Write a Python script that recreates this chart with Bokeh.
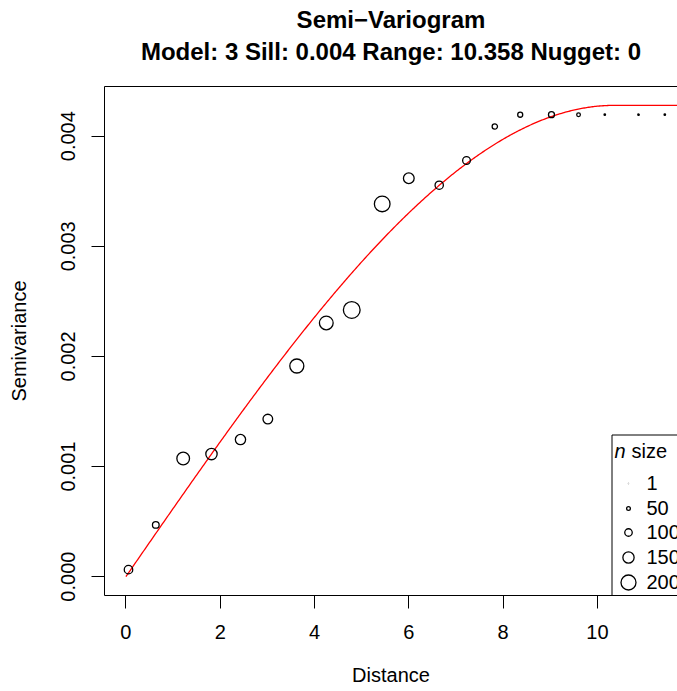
import numpy as np
from bokeh.plotting import figure
from bokeh.models import Range1d, LinearAxis, Label, FixedTicker, PrintfTickFormatter, Title
from bokeh.embed import file_html
from bokeh.resources import INLINE

# ---- data ----
distance = [0.055, 0.634, 1.215, 1.815, 2.43, 3.01, 3.625, 4.25, 4.79, 5.436,
            6.0, 6.645, 7.224, 7.824, 8.363, 9.026, 9.6, 10.157, 10.872, 11.43]
semivariance = [0.0000636, 0.00047, 0.001073, 0.001113, 0.001245, 0.001431,
                0.001913, 0.002304, 0.002422, 0.003385, 0.003618, 0.003555,
                0.003779, 0.004088, 0.004195, 0.004195, 0.004195, 0.004195,
                0.004195, 0.004195]
n_pairs = [113, 89, 169, 151, 137, 129, 187, 183, 223, 209,
           143, 111, 103, 71, 67, 80, 49, 20, 20, 20]

x_ticks = [0, 2, 4, 6, 8, 10]
y_ticks = [0.0, 0.001, 0.002, 0.003, 0.004]

legend_n = [1, 50, 100, 150, 200]
legend_labels = ["1", "50", "100", "150", "200"]

# fitted spherical model (Model: 3)
model_sill = 0.00428
model_range = 10.358
model_nugget = 0.0

title_line1 = "Semi\u2212Variogram"
title_line2 = "Model: 3 Sill: 0.004 Range: 10.358 Nugget: 0"

# ---- layout ----
FONT = "Liberation Sans"
W, H = 677, 691
X0, X1 = -0.454, 11.699
Y0, Y1 = -0.0001713, 0.0044513
PX_PER_N = 0.075

# frame edges in canvas pixels (used for the decorative legend placement)
FL, FR, FT, FB = 104, 677, 86, 595


def px_x(px):
    return X0 + (px - FL) / (FR - FL) * (X1 - X0)


def px_y(py):
    return Y0 + (FB - py) / (FB - FT) * (Y1 - Y0)


p = figure(width=W, height=H, output_backend="svg", toolbar_location=None,
           x_range=Range1d(X0, X1), y_range=Range1d(Y0, Y1),
           min_border_left=FL, min_border_right=0,
           min_border_top=FT, min_border_bottom=H - FB)
p.outline_line_color = None
p.grid.visible = False
p.background_fill_color = "white"
p.border_fill_color = "white"

for ax in (p.xaxis[0], p.yaxis[0]):
    ax.axis_line_color = "black"
    ax.axis_line_width = 1
    ax.major_tick_line_color = "black"
    ax.major_tick_out = 13
    ax.major_tick_in = 0
    ax.minor_tick_line_color = None
    ax.major_label_text_font = FONT
    ax.major_label_text_font_size = "20px"
    ax.major_label_text_color = "black"
    ax.axis_label_text_font = FONT
    ax.axis_label_text_font_size = "20px"
    ax.axis_label_text_font_style = "normal"
    ax.axis_label_text_color = "black"

p.xaxis.ticker = FixedTicker(ticks=x_ticks)
p.xaxis.axis_label = "Distance"
p.xaxis.major_label_standoff = 16
p.xaxis.axis_label_standoff = 22

p.yaxis.ticker = FixedTicker(ticks=y_ticks)
p.yaxis.formatter = PrintfTickFormatter(format="%.3f")
p.yaxis.major_label_orientation = "vertical"
p.yaxis.axis_label = "Semivariance"
p.yaxis.major_label_standoff = 16
p.yaxis.axis_label_standoff = 29

# top edge of the plot box (no ticks)
top_axis = LinearAxis(ticker=FixedTicker(ticks=[]), major_tick_out=0, major_tick_in=0,
                      major_tick_line_color="black", minor_tick_line_color=None,
                      major_label_text_font_size="0px", major_label_standoff=0,
                      axis_line_color="black")
p.add_layout(top_axis, "above")

# blank spacer between the box and the title lines
p.add_layout(Title(text=" ", text_font_size="1px", standoff=16), "above")

# two-line title
p.add_layout(Title(text=title_line2, text_font=FONT, text_font_size="24px",
                   text_font_style="bold", text_color="black", align="center",
                   standoff=6), "above")
p.title.text = title_line1
p.title.text_font = FONT
p.title.text_font_size = "24px"
p.title.text_font_style = "bold"
p.title.text_color = "black"
p.title.align = "center"
p.title.standoff = 0

# model curve
h = np.linspace(0, 12.5, 500)
r = np.minimum(h / model_range, 1.0)
gamma = model_nugget + (model_sill - model_nugget) * (1.5 * r - 0.5 * r ** 3)
p.line(h, gamma, line_color="#FF0000", line_width=1.3)

# empirical semivariogram points
sizes = [n * PX_PER_N for n in n_pairs]
p.scatter(distance, semivariance, size=sizes, marker="circle",
          fill_color=None, line_color="black", line_width=1.3)

# ---- legend (n size) ----
p.quad(left=[px_x(611.5)], right=[X1 + 1], top=[px_y(434.5)], bottom=[Y0 - 1],
       fill_color="white", line_color="black", line_width=1)
row_y = [483, 508, 532, 557, 582]
p.scatter([px_x(628)] * len(legend_n), [px_y(y) for y in row_y],
          size=[n * PX_PER_N for n in legend_n], marker="circle",
          fill_color=None, line_color="black", line_width=1.3)
for lab, y in zip(legend_labels, row_y):
    p.add_layout(Label(x=px_x(646), y=px_y(y - 1), text=lab, text_font=FONT,
                       text_font_size="20px", text_color="black",
                       text_baseline="alphabetic", text_align="left"))
p.add_layout(Label(x=px_x(614), y=px_y(450), text="n", text_font=FONT,
                   text_font_size="20px", text_font_style="italic",
                   text_color="black", text_baseline="alphabetic"))
p.add_layout(Label(x=px_x(631), y=px_y(450), text="size", text_font=FONT,
                   text_font_size="20px", text_color="black",
                   text_baseline="alphabetic"))

open("out.html", "w").write(file_html(p, INLINE))
